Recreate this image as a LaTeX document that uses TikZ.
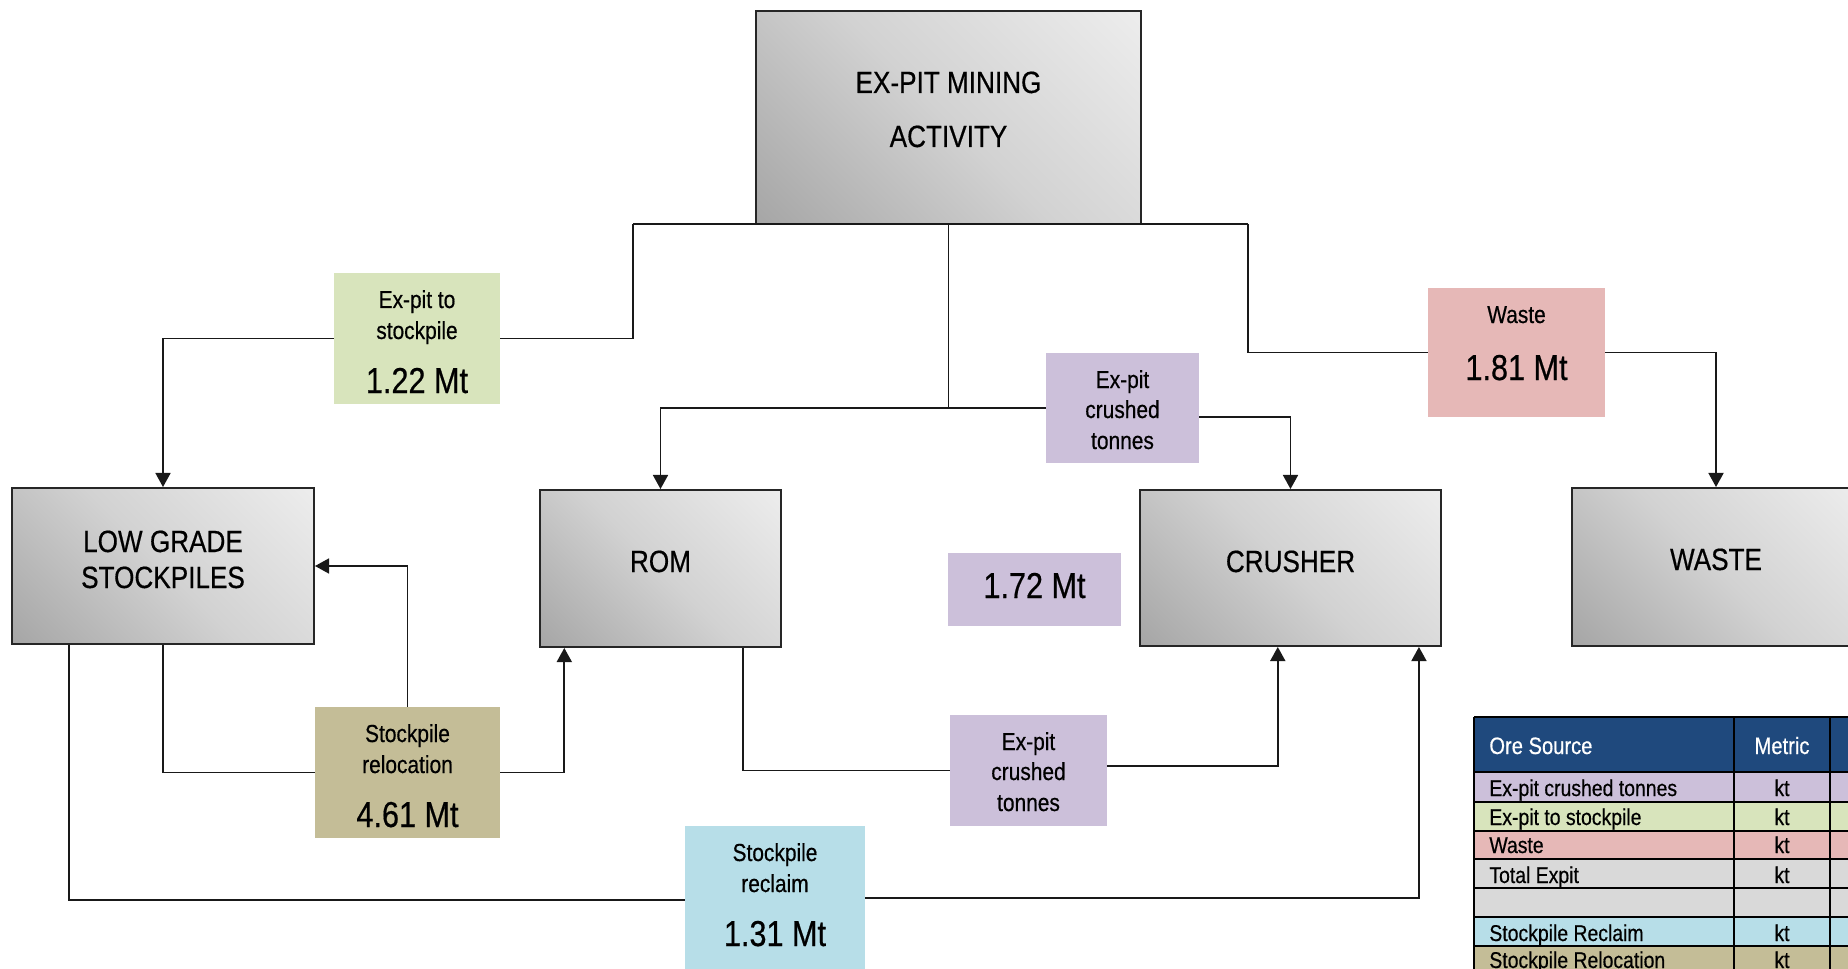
\documentclass[tikz,border=0pt]{standalone}
\usepackage{fontspec}
\setmainfont[FakeStretch=0.85,FakeBold=0.5]{Liberation Sans}
\usetikzlibrary{arrows.meta,fit,calc}
\definecolor{cpur}{HTML}{CCC0DA}
\definecolor{cgrn}{HTML}{D8E4BC}
\definecolor{cred}{HTML}{E6B8B7}
\definecolor{ctan}{HTML}{C4BD97}
\definecolor{cblu}{HTML}{B7DEE8}
\definecolor{cgry}{HTML}{D9D9D9}
\definecolor{chead}{HTML}{1F497D}
\definecolor{gdark}{HTML}{949494}
\definecolor{gmid}{HTML}{D2D2D2}
\definecolor{glight}{HTML}{F8F8F8}
\pgfdeclareverticalshading{boxgrad}{100bp}{color(0bp)=(gdark); color(8bp)=(gdark!85!gmid); color(50bp)=(gmid); color(100bp)=(glight)}
\tikzset{
  gbox/.style={draw=black!85, line width=1.1pt, inner sep=0pt, shading=boxgrad, shading angle=-45},
  lbox/.style={inner sep=0pt, draw=none},
  conn/.style={line width=1.1pt, draw=black!90},
  arr/.style={conn, -{Triangle[width=8.5pt,length=8pt]}},
  bigtxt/.style={font=\fontsize{17.5}{21}\selectfont, anchor=base, inner sep=0pt},
  smalltxt/.style={font=\fontsize{14}{17}\selectfont, anchor=base, inner sep=0pt},
  numtxt/.style={font=\fontsize{20.5}{24}\selectfont, anchor=base, inner sep=0pt},
  tabtxt/.style={font=\fontsize{13}{15}\selectfont, anchor=base west, inner sep=0pt},
  tabctr/.style={font=\fontsize{13}{15}\selectfont, anchor=base, inner sep=0pt},
  tabline/.style={line width=1.1pt, draw=black},
}
\begin{document}
\begin{tikzpicture}[x=0.02cm, y=-0.02cm]
\useasboundingbox (0,0) rectangle (1848,969);
\clip (0,0) rectangle (1848,969);
\fill[white] (0,0) rectangle (1848,969);

% main boxes
\node[gbox, fit={(756,11)(1141,224)}] (top) {};
\node[gbox, fit={(12,488)(314,644)}] (lgs) {};
\node[gbox, fit={(540,490)(781,647)}] (rom) {};
\node[gbox, fit={(1140,490)(1441,646)}] (crusher) {};
\node[gbox, fit={(1572,488)(1860,646)}] (waste) {};

% label boxes
\node[lbox, fill=cgrn, fit={(334,273)(500,404)}] (lgreen) {};
\node[lbox, fill=cpur, fit={(1046,353)(1199,463)}] (lpur1) {};
\node[lbox, fill=cpur, fit={(948,553)(1121,626)}] (lnum) {};
\node[lbox, fill=cred, fit={(1428,288)(1605,417)}] (lred) {};
\node[lbox, fill=cpur, fit={(950,715)(1107,826)}] (lpur2) {};
\node[lbox, fill=ctan, fit={(315,707)(500,838)}] (ltan) {};
\node[lbox, fill=cblu, fit={(685,826)(865,974)}] (lblu) {};

% junctions
\coordinate (jl) at (633,224);
\coordinate (jr) at (1248,224);
\coordinate (jc) at (top.south |- lpur1.west);

% connectors
\draw[conn] (jl) -- (jr);
\draw[conn] (jl) |- (lgreen.east);
\draw[arr] (lgreen.west) -| (lgs.north);
\draw[conn] (jr) |- (lred.west);
\draw[arr] (lred.east) -| (waste.north);
\draw[conn] (top.south) -- (jc);
\draw[arr] (jc) -| (rom.north);
\draw[conn] (jc) -- (lpur1.west);
\draw[arr] ($(lpur1.east)+(0,9)$) -| (crusher.north);
\draw[conn] ($(rom.south west)!0.838!(rom.south east)$) |- (lpur2.west);
\draw[arr] ($(lpur2.east)+(0,-4.5)$) -| ($(crusher.south west)!0.458!(crusher.south east)$);
\draw[conn] (lgs.south) |- (ltan.west);
\draw[arr] (ltan.east) -| ($(rom.south west)!0.104!(rom.south east)$);
\draw[arr] (ltan.north) |- (lgs.east);
\draw[conn] ($(lgs.south west)!0.192!(lgs.south east)$) |- (lblu.west);
\draw[arr] ($(lblu.east)+(0,-2)$) -| ($(crusher.south west)!0.924!(crusher.south east)$);

% box texts
\node[bigtxt] (ttop1) at (948.5,93) {EX-PIT MINING};
\node[bigtxt] (ttop2) at (948.5,147) {ACTIVITY};
\node[bigtxt] (tlgs1) at (163,552) {LOW GRADE};
\node[bigtxt] (tlgs2) at (163,588) {STOCKPILES};
\node[bigtxt] (trom) at (660.5,572) {ROM};
\node[bigtxt] (tcru) at (1290.5,572) {CRUSHER};
\node[bigtxt] (twas) at (1716,570) {WASTE};

% label texts
\node[smalltxt] (tg1) at (417,308) {Ex-pit to};
\node[smalltxt] (tg2) at (417,339) {stockpile};
\node[numtxt] (tg3) at (417,393) {1.22 Mt};
\node[smalltxt] (tp1) at (1122.5,388) {Ex-pit};
\node[smalltxt] (tp2) at (1122.5,418) {crushed};
\node[smalltxt] (tp3) at (1122.5,449) {tonnes};
\node[numtxt] (tn1) at (1034.5,598) {1.72 Mt};
\node[smalltxt] (tr1) at (1516.5,323) {Waste};
\node[numtxt] (tr2) at (1516.5,380) {1.81 Mt};
\node[smalltxt] (tq1) at (1028.5,750) {Ex-pit};
\node[smalltxt] (tq2) at (1028.5,780) {crushed};
\node[smalltxt] (tq3) at (1028.5,811) {tonnes};
\node[smalltxt] (tt1) at (407.5,742) {Stockpile};
\node[smalltxt] (tt2) at (407.5,773) {relocation};
\node[numtxt] (tt3) at (407.5,827) {4.61 Mt};
\node[smalltxt] (tb1) at (775,861) {Stockpile};
\node[smalltxt] (tb2) at (775,892) {reclaim};
\node[numtxt] (tb3) at (775,946) {1.31 Mt};

% table
\fill[chead] (1474,717) rectangle (1900,772);
\foreach \ya/\yb/\c in {772/802/cpur, 802/831/cgrn, 831/859/cred, 859/888/cgry, 888/917/cgry, 917/946/cblu, 946/990/ctan}{
  \fill[\c] (1474,\ya) rectangle (1900,\yb);
}
\foreach \yy in {717,772,802,831,859,888,917,946}{
  \draw[tabline] (1474,\yy) -- (1900,\yy);
}
\foreach \xx in {1474,1734,1830}{
  \draw[tabline] (\xx,717) -- (\xx,990);
}
\node[tabtxt, text=white, font=\fontsize{13.5}{15}\selectfont] (h1) at (1489,754) {Ore Source};
\node[tabctr, text=white, font=\fontsize{13.5}{15}\selectfont] (h2) at (1782,754) {Metric};
\node[tabtxt] (r1) at (1489,796) {Ex-pit crushed tonnes};
\node[tabtxt] (r2) at (1489,825) {Ex-pit to stockpile};
\node[tabtxt] (r3) at (1489,853) {Waste};
\node[tabtxt] (r4) at (1489,883) {Total Expit};
\node[tabtxt] (r6) at (1489,941) {Stockpile Reclaim};
\node[tabtxt] (r7) at (1489,968) {Stockpile Relocation};
\node[tabctr] (k1) at (1782,796) {kt};
\node[tabctr] (k2) at (1782,825) {kt};
\node[tabctr] (k3) at (1782,853) {kt};
\node[tabctr] (k4) at (1782,883) {kt};
\node[tabctr] (k6) at (1782,941) {kt};
\node[tabctr] (k7) at (1782,968) {kt};
\end{tikzpicture}
\end{document}
